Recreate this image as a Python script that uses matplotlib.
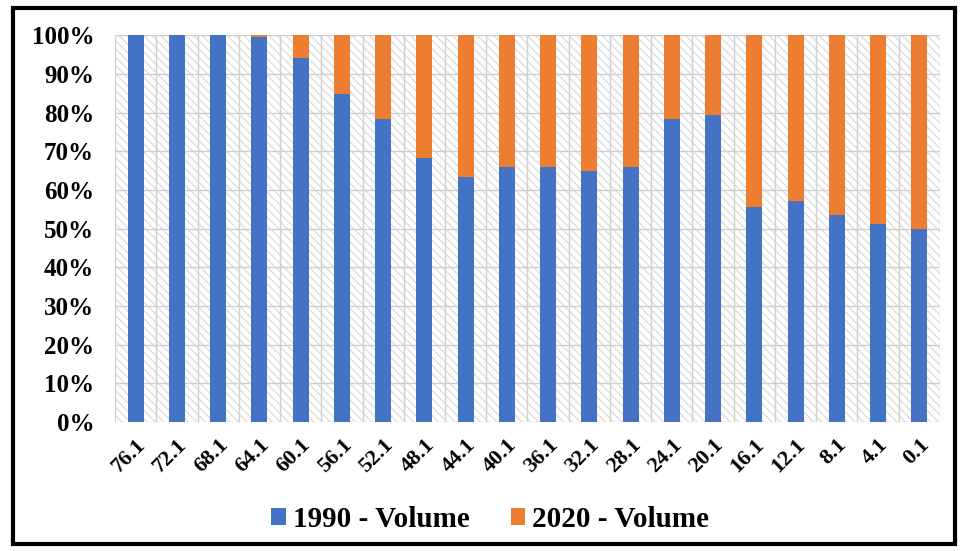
import numpy as np
import matplotlib.pyplot as plt
import matplotlib as mlt
from matplotlib.patches import Rectangle

categories = ["76.1", "72.1", "68.1", "64.1", "60.1", "56.1", "52.1", "48.1", "44.1", "40.1",
              "36.1", "32.1", "28.1", "24.1", "20.1", "16.1", "12.1", "8.1", "4.1", "0.1"]
vol_1990 = [100, 100, 100, 99.6, 94.2, 84.8, 78.3, 68.3, 63.4, 65.9,
            65.9, 64.9, 66.0, 78.3, 79.3, 55.5, 57.1, 53.5, 51.2, 50.0]
vol_2020 = [100 - v for v in vol_1990]
series_names = ["1990 - Volume", "2020 - Volume"]

mlt.rcParams["font.family"] = "Liberation Serif"
mlt.rcParams["font.weight"] = "bold"
mlt.rcParams["hatch.linewidth"] = 0.8
mlt.rcParams["hatch.color"] = "#d8d8d8"

fig = plt.figure(figsize=(9.67, 5.51), dpi=100)
ax = fig.add_axes([0.119, 0.234, 0.853, 0.702])

x = np.arange(len(categories))

# fondo tratteggiato dell'area del grafico
ax.add_patch(Rectangle((0, 0), 1, 1, transform=ax.transAxes, facecolor="white",
                       edgecolor="#d8d8d8", hatch="\\\\\\\\", lw=0, zorder=0))

# griglia
for yy in np.arange(0, 101, 10):
    ax.axhline(yy, color="#cfcfcf", lw=1, zorder=1)
for xx in np.arange(-0.5, len(categories), 1):
    ax.axvline(xx, color="#cfcfcf", lw=1, zorder=1)

ax.bar(x, vol_1990, width=0.39, color="#4472C4", label=series_names[0], zorder=3)
ax.bar(x, vol_2020, width=0.39, bottom=vol_1990, color="#ED7D31", label=series_names[1], zorder=3)

ax.set_xlim(-0.5, len(categories) - 0.5)
ax.set_ylim(0, 100)
ax.set_yticks(np.arange(0, 101, 10))
ax.set_yticklabels([f"{v}%" for v in range(0, 101, 10)], fontsize=18, fontweight="bold")
ax.set_xticks(x)
ax.set_xticklabels(categories, rotation=45, ha="right", rotation_mode="anchor",
                   fontsize=16, fontweight="bold")
ax.tick_params(axis="y", length=0, pad=15)
ax.tick_params(axis="x", length=0, pad=9)
for s in ax.spines.values():
    s.set_visible(False)

fig.legend(loc="center", bbox_to_anchor=(0.507, 0.057), ncol=2, frameon=False,
           prop={"size": 21, "weight": "bold"}, handlelength=0.5, handleheight=0.5,
           handletextpad=0.25, columnspacing=1.4)

# cornice esterna
fig.add_artist(Rectangle((0.013, 0.012), 0.975, 0.973, transform=fig.transFigure,
                         fill=False, edgecolor="black", lw=3))

fig.savefig("out.png", dpi=100)
